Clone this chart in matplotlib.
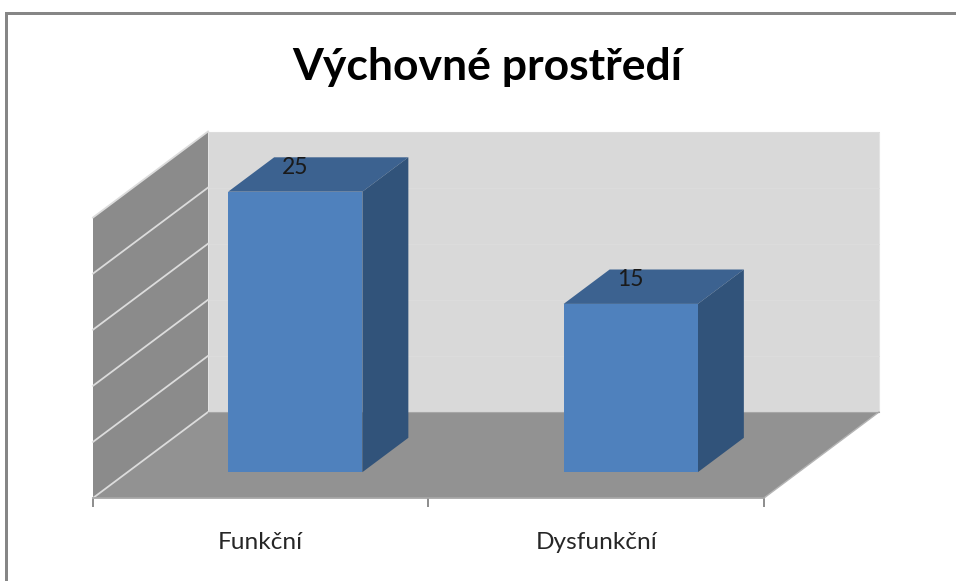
import matplotlib
matplotlib.use("Agg")
import matplotlib.pyplot as plt
from matplotlib.patches import Polygon, Rectangle

plt.rcParams['font.family'] = ['Lato', 'DejaVu Sans']

# Data
categories = ['Funkční', 'Dysfunkční']
values = [25, 15]
title = 'Výchovné prostředí'
y_ticks = [0, 5, 10, 15, 20, 25]

W, H = 956, 581
fig = plt.figure(figsize=(W/100, H/100), dpi=100, facecolor='white')

# front plane of the 3D box in pixels
left, right, base, top = 93, 764, 498, 217.5
ax = fig.add_axes([left/W, 1 - base/H, (right-left)/W, (base-top)/H])
ax.set_xlim(0, len(categories))
ax.set_ylim(0, 25)
ax.patch.set_visible(False)

# oblique depth, as fraction of the axis units
px_x = len(categories) / (right - left)
px_y = 25 / (base - top)
DX = 115 * px_x
DY = 86 * px_y

def proj(x, v, d):
    return (x + d*DX, v + d*DY)

def face(pts, **kw):
    p = Polygon(pts, closed=True, clip_on=False, **kw)
    ax.add_patch(p)
    return p

n = len(categories)
vmax = y_ticks[-1]

# back wall, side wall, floor
face([proj(0, 0, 1), proj(n, 0, 1), proj(n, vmax, 1), proj(0, vmax, 1)],
     facecolor='#d9d9d9', edgecolor='#e4e4e4', lw=0.8, zorder=1)
face([proj(0, 0, 0), proj(0, 0, 1), proj(0, vmax, 1), proj(0, vmax, 0)],
     facecolor='#8b8b8b', edgecolor='none', zorder=1)
face([proj(0, 0, 0), proj(n, 0, 0), proj(n, 0, 1), proj(0, 0, 1)],
     facecolor='#929292', edgecolor='none', zorder=1)

# gridlines on walls
for t in y_ticks:
    a, b, c = proj(0, t, 0), proj(0, t, 1), proj(n, t, 1)
    ax.plot([a[0], b[0]], [a[1], b[1]], color='#dcdcdc', lw=1.3, clip_on=False, zorder=2)
    if t > 0:
        ax.plot([b[0], c[0]], [b[1], c[1]], color='#dddddd', lw=0.7, clip_on=False, zorder=1.5)

# floor edges
ax.plot(*zip(proj(n, 0, 0), proj(n, 0, 1)), color='#b4b4b4', lw=1, clip_on=False, zorder=2)
ax.plot(*zip(proj(0, 0, 1), proj(n, 0, 1)), color='#a6a6a6', lw=0.8, clip_on=False, zorder=2)

# bars
bar_w = 0.4
d0, d1 = 0.3, 0.7
for i, v in enumerate(values):
    x0 = i + 0.5 - bar_w/2
    x1 = i + 0.5 + bar_w/2
    face([proj(x0, v, d0), proj(x1, v, d0), proj(x1, v, d1), proj(x0, v, d1)],
         facecolor='#3c6290', edgecolor='none', zorder=3)
    face([proj(x1, 0, d0), proj(x1, 0, d1), proj(x1, v, d1), proj(x1, v, d0)],
         facecolor='#31537a', edgecolor='none', zorder=3)
    face([proj(x0, 0, d0), proj(x1, 0, d0), proj(x1, v, d0), proj(x0, v, d0)],
         facecolor='#4f81bd', edgecolor='none', zorder=4)
    cx, cy = proj(i + 0.5, v, d0)
    ax.annotate(str(v), (cx, cy), xytext=(0, 17.3), textcoords='offset points',
                ha='center', va='center', fontsize=16.5, color='#1a1a1a', zorder=5,
                annotation_clip=False)

# axes
for s in ['top', 'left', 'right']:
    ax.spines[s].set_visible(False)
ax.spines['bottom'].set_color('#a6a6a6')
ax.spines['bottom'].set_linewidth(1.3)
ax.spines['bottom'].set_zorder(6)
ax.set_yticks([])
ax.set_xticks(range(n + 1))
ax.set_xticklabels([])
ax.tick_params(axis='x', which='major', length=6.5, width=1.4, color='#8c8c8c')
ax.set_xticks([i + 0.5 for i in range(n)], minor=True)
ax.set_xticklabels(categories, minor=True, fontsize=17.6, color='#262626')
ax.tick_params(axis='x', which='minor', length=0, pad=24.5)

fig.text(487/W, 1 - 67/H, title, ha='center', va='center',
         fontsize=32, fontweight='bold', color='black')

# outer chart frame
frame = '#868686'
fig.add_artist(Rectangle((5/W, 0), 2.5/W, 1 - 12/H, transform=fig.transFigure,
                         facecolor=frame, edgecolor='none'))
fig.add_artist(Rectangle((5/W, 1 - 14.5/H), 1 - 5/W, 2.5/H, transform=fig.transFigure,
                         facecolor=frame, edgecolor='none'))

fig.savefig('out.png', dpi=100)
